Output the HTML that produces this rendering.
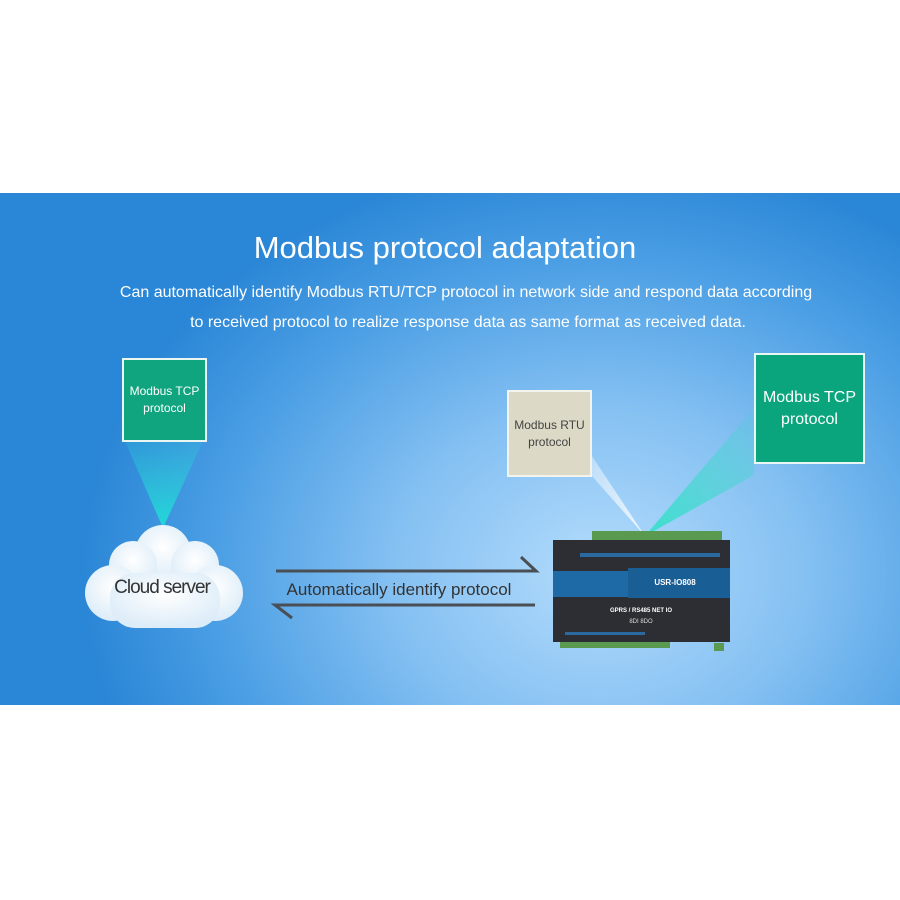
<!DOCTYPE html>
<html><head><style>
body{margin:0;width:900px;height:900px;background:#fff;position:relative;overflow:hidden;font-family:"Liberation Sans",sans-serif}
#band{position:absolute;left:0;top:193px;width:900px;height:512px;background:radial-gradient(ellipse 520px 420px at 600px 380px,#b4dcfc 0%,#84c0f2 40%,#4a9ee4 75%,#2a86d6 100%);overflow:hidden}
.t{position:absolute;color:#fff;text-align:center;width:900px;left:0;white-space:nowrap}
.box{position:absolute;display:flex;align-items:center;justify-content:center;text-align:center;color:#fff;box-sizing:border-box;border:2px solid #eaf6f2}
</style></head><body>
<div id="band">
<div class="t" style="top:37px;font-size:31px;left:-5px">Modbus protocol adaptation</div>
<div class="t" style="top:91px;font-size:16px;left:16px">Can automatically identify Modbus RTU/TCP protocol in network side and respond data according</div>
<div class="t" style="top:121px;font-size:16px;left:18px">to received protocol to realize response data as same format as received data.</div>
<svg width="900" height="512" style="position:absolute;left:0;top:0">
<defs>
<linearGradient id="g1" x1="0" y1="0" x2="0" y2="1"><stop offset="0" stop-color="#2ad0d8" stop-opacity=".2"/><stop offset="1" stop-color="#20dcd8" stop-opacity=".95"/></linearGradient>
<linearGradient id="g2" x1="1" y1="0" x2="0" y2="1"><stop offset="0" stop-color="#2ad8c0" stop-opacity=".1"/><stop offset="1" stop-color="#30e0c8" stop-opacity=".9"/></linearGradient>
<linearGradient id="g3" x1="0" y1="0" x2="1" y2="1"><stop offset="0" stop-color="#fff" stop-opacity=".1"/><stop offset="1" stop-color="#fff" stop-opacity=".8"/></linearGradient>
<radialGradient id="cl" cx=".5" cy=".4" r=".6"><stop offset="0" stop-color="#fff"/><stop offset="1" stop-color="#dcecf8"/></radialGradient>
</defs>
<polygon points="125,248 203,248 163,335" fill="url(#g1)"/>
<polygon points="560,215 592,283 645,343" fill="url(#g3)"/>
<polygon points="754,215 754,282 645,343" fill="url(#g2)"/>
<g fill="url(#cl)">
<circle cx="163" cy="360" r="28"/><circle cx="133" cy="372" r="24"/><circle cx="195" cy="372" r="24"/>
<circle cx="113" cy="400" r="28"/><circle cx="215" cy="400" r="28"/>
<rect x="110" y="380" width="110" height="55" rx="25"/>
</g>
<text x="162" y="400" font-size="19" fill="#333" text-anchor="middle" font-family="Liberation Sans" letter-spacing="-1">Cloud server</text>
<g stroke="#4a4f55" stroke-width="3" fill="none">
<polyline points="276,378 536,378 521,364"/>
<polyline points="535,412 275,412 292,425"/>
</g>
<text x="399" y="402" font-size="17" fill="#333" text-anchor="middle" font-family="Liberation Sans">Automatically identify protocol</text>
<g>
<rect x="592" y="338" width="130" height="9" fill="#5a9a50"/>
<rect x="560" y="445" width="110" height="10" fill="#5a9a50"/>
<rect x="714" y="450" width="10" height="8" fill="#5a9a50"/>
<rect x="553" y="347" width="177" height="102" fill="#2c2e33"/>
<rect x="553" y="378" width="177" height="26" fill="#1d6aa6"/>
<rect x="628" y="375" width="102" height="30" fill="#1a5e96"/>
<text x="675" y="392" font-size="8" fill="#fff" font-weight="bold" text-anchor="middle">USR-IO808</text>
<text x="641" y="419" font-size="6" fill="#fff" text-anchor="middle" font-weight="bold">GPRS / RS485 NET IO</text>
<text x="641" y="430" font-size="6" fill="#ddd" text-anchor="middle">8DI 8DO</text>
<rect x="580" y="360" width="140" height="4" fill="#2a6aa0"/>
<rect x="565" y="439" width="80" height="3" fill="#2a6aa0"/>
</g>
</svg>
<div class="box" style="left:122px;top:165px;width:85px;height:84px;background:#10a57e;font-size:12px;line-height:17px">Modbus TCP<br>protocol</div>
<div class="box" style="left:507px;top:197px;width:85px;height:87px;background:#dcd9c6;color:#444;font-size:12px;line-height:17px;border-color:#f4f4ee">Modbus RTU<br>protocol</div>
<div class="box" style="left:754px;top:160px;width:111px;height:111px;background:#0aa57c;font-size:16px;line-height:22px">Modbus TCP<br>protocol</div>
</div>
</body></html>
